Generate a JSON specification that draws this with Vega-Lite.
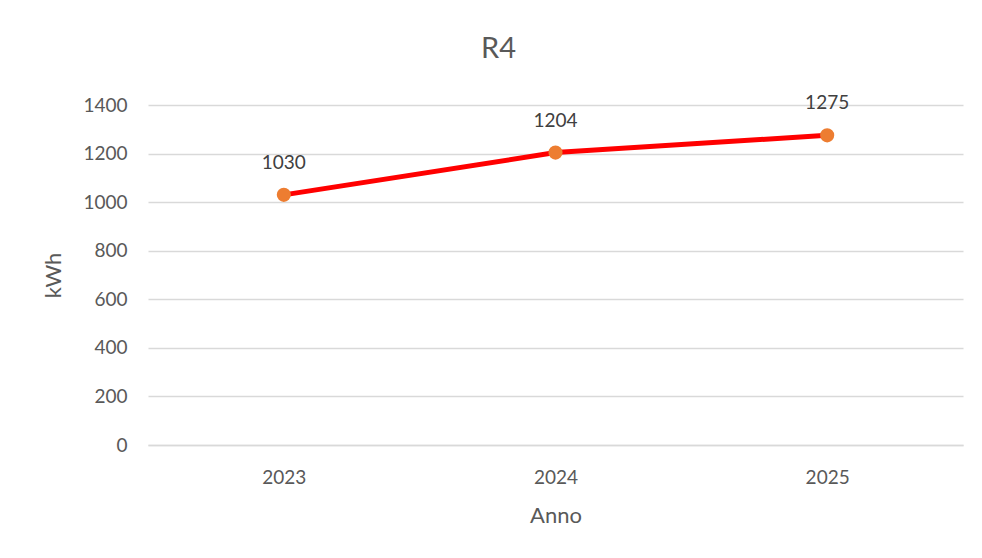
{
  "$schema": "https://vega.github.io/schema/vega-lite/v6.json",
  "width": 815,
  "height": 340,
  "autosize": {"type": "none"},
  "padding": {"left": 148, "top": 105, "right": 19, "bottom": 113},
  "background": "white",
  "config": {
    "font": "Lato",
    "view": {"stroke": null}
  },
  "title": {
    "text": "R4",
    "fontSize": 29,
    "fontWeight": "normal",
    "color": "#595959",
    "font": "Lato",
    "anchor": "middle",
    "dx": -57,
    "offset": 30
  },
  "data": {
    "values": [
      {"Anno": "2023", "kWh": 1030},
      {"Anno": "2024", "kWh": 1204},
      {"Anno": "2025", "kWh": 1275}
    ]
  },
  "encoding": {
    "x": {
      "field": "Anno",
      "type": "ordinal",
      "scale": {"type": "point", "padding": 0.5},
      "axis": {
        "title": "Anno",
        "titleFontSize": 22,
        "titleFontWeight": "normal",
        "titleColor": "#595959",
        "titlePadding": 18,
        "labelAngle": 0,
        "labelFontSize": 19,
        "labelColor": "#595959",
        "labelPadding": 23,
        "ticks": false,
        "domain": true,
        "domainColor": "#d9d9d9",
        "domainWidth": 1.5,
        "grid": false
      }
    },
    "y": {
      "field": "kWh",
      "type": "quantitative",
      "scale": {"domain": [0, 1400]},
      "axis": {
        "title": "kWh",
        "titleFontSize": 22,
        "titleFontWeight": "normal",
        "titleColor": "#595959",
        "titlePadding": 17,
        "values": [0, 200, 400, 600, 800, 1000, 1200, 1400],
        "format": "d",
        "labelFontSize": 19,
        "labelColor": "#595959",
        "labelPadding": 21,
        "ticks": false,
        "domain": false,
        "grid": true,
        "gridColor": "#d9d9d9",
        "gridWidth": 1.5
      }
    }
  },
  "layer": [
    {
      "mark": {"type": "line", "color": "#ff0000", "strokeWidth": 5}
    },
    {
      "mark": {"type": "point", "filled": true, "color": "#ed7d31", "size": 200, "opacity": 1}
    },
    {
      "mark": {"type": "text", "dy": -32, "fontSize": 19, "color": "#404040"},
      "encoding": {"text": {"field": "kWh", "type": "quantitative", "format": "d"}}
    }
  ]
}
